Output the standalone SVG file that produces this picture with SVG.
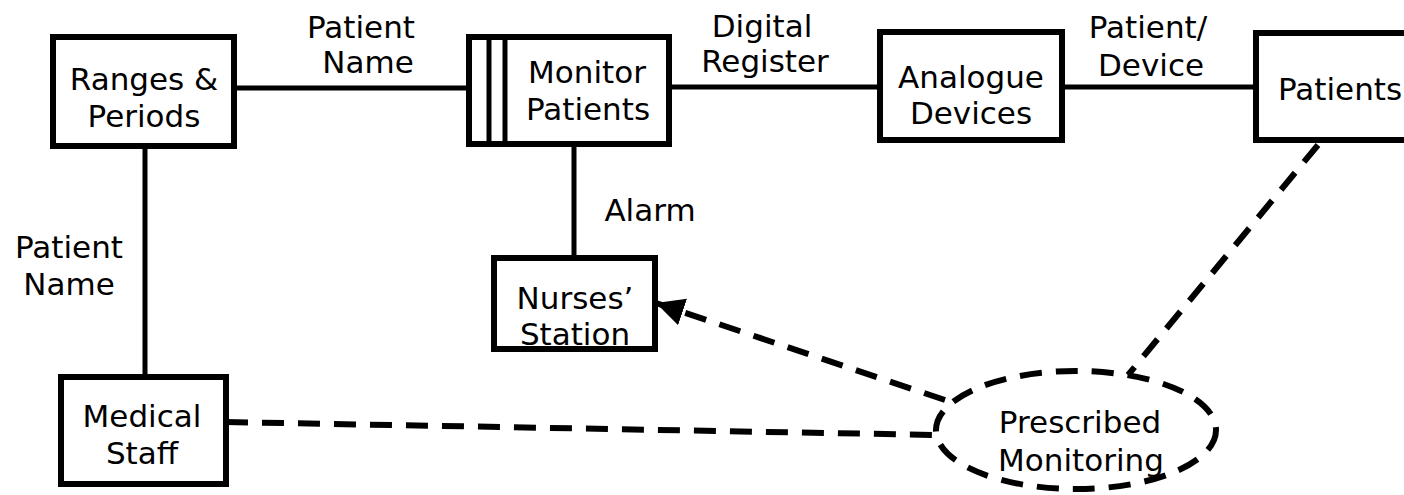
<svg xmlns="http://www.w3.org/2000/svg" width="1404" height="495" viewBox="0 0 1404 495">
  <style>
    .box { fill: #fff; stroke: #000; stroke-width: 6; }
    .bar { stroke: #000; stroke-width: 5; fill: none; }
    .flow { stroke: #000; stroke-width: 5; fill: none; }
    .dash { stroke: #000; stroke-width: 6; fill: none; stroke-dasharray: 22 14; }
    .lbl { font-family: "DejaVu Sans", Verdana, sans-serif; font-size: 31px; fill: #000; text-anchor: middle; }
    .start { text-anchor: start; }
  </style>
  <defs>
    <marker id="arrow" markerUnits="userSpaceOnUse" markerWidth="30" markerHeight="30" refX="28" refY="14" orient="auto">
      <path d="M0,0 L28,14 L0,28 Z" fill="#000"/>
    </marker>
  </defs>

  <!-- connectors -->
  <g id="connectors">
    <line class="flow" x1="234" y1="88" x2="469" y2="88"/>
    <line class="flow" x1="669" y1="87" x2="880" y2="87"/>
    <line class="flow" x1="1062" y1="87" x2="1256" y2="87"/>
    <line class="flow" x1="574" y1="144" x2="574" y2="258"/>
    <line class="flow" x1="145" y1="146" x2="145" y2="377"/>
    <line class="dash" x1="226" y1="422" x2="936" y2="435"/>
    <line class="dash" x1="945" y1="400" x2="656" y2="303" marker-end="url(#arrow)"/>
    <line class="dash" x1="1318" y1="145" x2="1128" y2="375"/>
    <text class="lbl" x="361" y="38">Patient</text>
    <text class="lbl" x="368" y="73">Name</text>
    <text class="lbl" x="762" y="37">Digital</text>
    <text class="lbl" x="765" y="72">Register</text>
    <text class="lbl" x="1148" y="38">Patient/</text>
    <text class="lbl" x="1151" y="76">Device</text>
    <text class="lbl" x="650" y="221">Alarm</text>
    <text class="lbl" x="69" y="258">Patient</text>
    <text class="lbl" x="69" y="295">Name</text>
  </g>

  <g id="ranges-periods">
    <rect class="box" x="53" y="37" width="181" height="109"/>
    <text class="lbl" x="144" y="90">Ranges &amp;</text>
    <text class="lbl" x="144" y="127">Periods</text>
  </g>

  <g id="monitor-patients">
    <rect class="box" x="469" y="37" width="200" height="107"/>
    <line class="bar" x1="489" y1="37" x2="489" y2="144"/>
    <line class="bar" x1="505" y1="37" x2="505" y2="144"/>
    <text class="lbl" x="587" y="83">Monitor</text>
    <text class="lbl" x="588" y="120">Patients</text>
  </g>

  <g id="analogue-devices">
    <rect class="box" x="880" y="32" width="182" height="108"/>
    <text class="lbl" x="971" y="88">Analogue</text>
    <text class="lbl" x="971" y="124">Devices</text>
  </g>

  <g id="patients">
    <rect class="box" x="1256" y="33" width="200" height="107"/>
    <text class="lbl start" x="1278" y="100">Patients</text>
  </g>

  <g id="nurses-station">
    <rect class="box" x="494" y="258" width="161" height="91"/>
    <text class="lbl" x="575" y="309">Nurses’</text>
    <text class="lbl" x="575" y="345">Station</text>
  </g>

  <g id="medical-staff">
    <rect class="box" x="61" y="377" width="165" height="107"/>
    <text class="lbl" x="142" y="427">Medical</text>
    <text class="lbl" x="142" y="464">Staff</text>
  </g>

  <g id="prescribed-monitoring">
    <ellipse class="dash" cx="1076" cy="430" rx="140" ry="59" fill="#fff"/>
    <text class="lbl" x="1080" y="433">Prescribed</text>
    <text class="lbl" x="1081" y="471">Monitoring</text>
  </g>
</svg>
